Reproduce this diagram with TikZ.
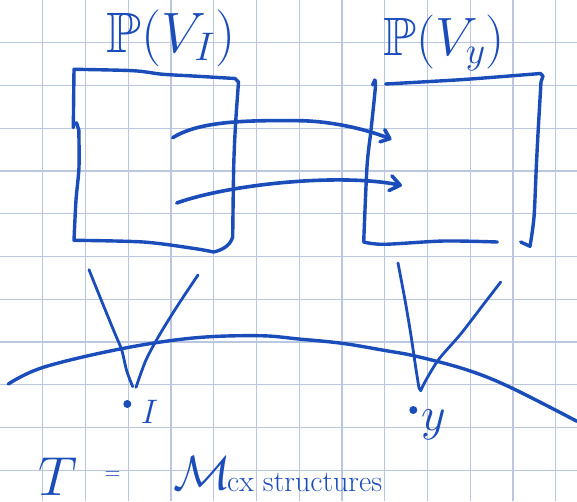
\documentclass[tikz,border=0pt]{standalone}
\usepackage{fix-cm}
\usepackage{amssymb}
\usetikzlibrary{arrows.meta}
\definecolor{ink}{RGB}{26,76,186}
\definecolor{gridc}{RGB}{186,199,222}
\tikzset{
  ink/.style={draw=ink, line width=3.4pt, line cap=round, line join=round},
  vink/.style={ink, line width=2.8pt},
  gridline/.style={draw=gridc, line width=1.3pt},
  arrowink/.style={ink, line width=3.6pt},
  hand/.style={text=ink, inner sep=3pt},
  dot/.style={circle, fill=ink, inner sep=0pt, minimum size=8pt},
}
\begin{document}
\begin{tikzpicture}[x=1pt,y=-1pt]
\fill[white] (0,0) rectangle (577,501);
\useasboundingbox (0,0) rectangle (577,501);
% grid paper
\foreach \k in {1,...,13} \draw[gridline] (42.75*\k,0) -- (42.75*\k,501);
\foreach \k in {1,...,11} \draw[gridline] (0,42.75*\k) -- (577,42.75*\k);

% titles
\node[hand, anchor=base, font=\fontsize{57}{62}\selectfont] (tI) at (171,52) {$\mathbb{P}(V_I)$};
\node[hand, anchor=base, font=\fontsize{54}{60}\selectfont] (ty) at (444,55) {$\mathbb{P}(V_y)$};

% left box
\draw[ink] (73.3,127.7) -- (74,69.3)
  -- plot[smooth,tension=0.5] coordinates {(74,69.3) (133,70.7) (162,74.2) (193,76) (235,78.5)}
  -- (238.5,82)
  -- plot[smooth,tension=0.5] coordinates {(238.5,82) (235.5,125) (233.7,166.7) (232.7,237)}
  .. controls (230,246) and (222,250) .. (213.7,252)
  -- plot[smooth,tension=0.5] coordinates {(213.7,252) (193,248.3) (143.3,242) (74,240.3)}
  -- plot[smooth,tension=0.5] coordinates {(74,240.3) (76,200) (79,167) (78.8,130)}
  -- (76.5,122.7);

% right box
\draw[ink] (372.6,85) -- (374.8,80)
  -- plot[smooth,tension=0.5] coordinates {(374.8,80) (375.3,88) (371,130) (367,166.7) (363.7,242)}
  -- plot[smooth,tension=0.5] coordinates {(363.7,242) (384,244.3) (444,241) (497.3,242)};
\draw[ink] plot[smooth,tension=0.5] coordinates {(385.7,84) (430,81.5) (470.7,79) (540.5,73.5)}
  -- (543,76) -- (541,82)
  -- plot[smooth,tension=0.5] coordinates {(541,82) (538.2,130) (536.3,166.7) (534,217) (530,246.3)}
  -- (520.7,242);

% arrows
\coordinate (a1s) at (172.7,137.7);
\coordinate (a1m) at (298.7,120.7);
\coordinate (a1e) at (391.5,139.3);
\draw[arrowink, -{Straight Barb[length=8pt,width=13pt,line cap=round,line join=round]}]
  (a1s) .. controls (198,122) and (240,120) .. (a1m)
        .. controls (325,120.8) and (360,127) .. (a1e);
\coordinate (a2s) at (176.7,203);
\coordinate (a2e) at (402,185.5);
\draw[arrowink, -{Straight Barb[length=10pt,width=15pt,line cap=round,line join=round]}]
  (a2s) .. controls (230,184) and (340,173) .. (a2e);

% base curve
\draw[ink] plot[smooth,tension=0.6] coordinates {(8.3,384) (43.3,367.3) (120,349) (193,338)
  (258.7,335.7) (298.7,339) (342,343.3) (385,350.5) (417.3,356.5) (467.3,370) (510.7,387.5) (577,421.3)};

% left cone
\draw[vink] plot[smooth,tension=0.5] coordinates {(89,269.7) (102,302) (115,333.7) (121.7,350) (126.7,370.7) (132.7,386.7)};
\draw[vink] plot[smooth,tension=0.5] coordinates {(136,387.3) (146,360) (160,334) (178,305) (198,275)};
% right cone
\draw[vink] plot[smooth,tension=0.5] coordinates {(398,263) (405,300) (410.7,333.7) (415.7,367.3) (419,388)}
  -- (420.7,390.7)
  -- plot[smooth,tension=0.5] coordinates {(420.7,390.7) (426,380) (439,359) (460.7,334) (484,303.7) (500.7,282)};

% points
\node[dot] (dI) at (127.3,404) {};
\node[dot] (dy) at (413.3,410) {};
\node[hand, anchor=base, font=\fontsize{34}{38}\selectfont] (lI) at (149.5,423) {$I$};
\node[hand, anchor=base, font=\fontsize{48}{52}\selectfont] (ly) at (434,430) {$y$};

% bottom formula
\node[hand, anchor=base, font=\fontsize{55}{60}\selectfont] (T) at (58,495) {$T$};
\node[hand, font=\fontsize{22}{24}\selectfont] (eq) at (112.5,476) {$=$};
\node[hand, anchor=base, font=\fontsize{48}{52}\selectfont] (M) at (202,489) {$\mathcal{M}$};
\node[hand, anchor=base west, font=\fontsize{30}{32}\selectfont] (sub) at (224,491) {cx structures};
\end{tikzpicture}
\end{document}
